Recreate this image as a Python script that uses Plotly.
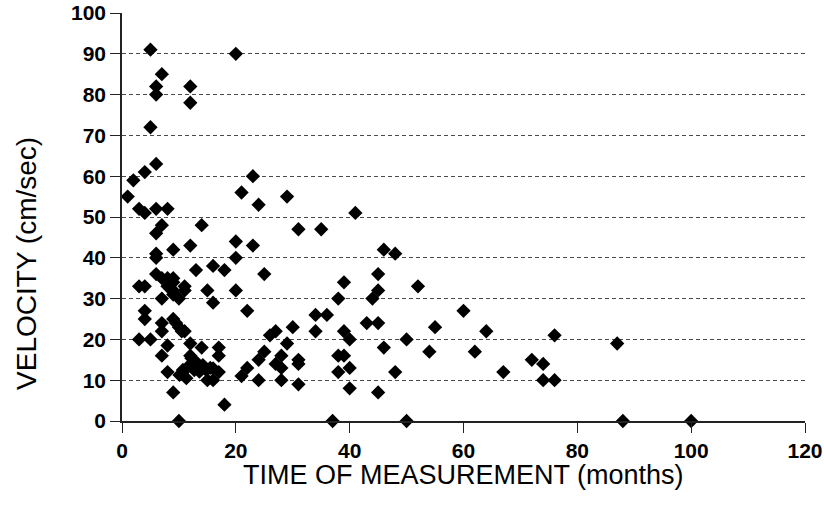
import plotly.graph_objects as go

months = [1, 2, 3, 4, 4, 5, 5, 6, 6, 6, 6, 7, 8, 12, 12, 20, 21, 23, 24, 29,
          7, 6, 14, 31, 35, 41, 20, 23, 12, 9, 6, 6, 20, 13, 16, 18, 25, 46, 48,
          6, 7, 8, 9, 9, 8, 11, 11, 3, 4, 9, 15, 20, 39, 45, 45, 52,
          7, 9, 10, 16, 22, 44, 38, 4, 4, 7, 9, 9.5, 10, 10.5, 11, 7, 34, 36, 60, 43, 45,
          3, 5, 12, 8, 14, 17, 17, 7, 12, 30, 34, 39, 40, 55, 64, 50, 29, 46, 54, 62, 26, 27, 76, 87,
          12.2, 13, 14.2, 11.6, 10.7, 10.1, 12.7, 14.8, 16, 13.6, 11.3, 8, 15, 16, 17, 15.5,
          21, 22, 24, 25, 24, 28, 27, 28, 28, 31, 31, 31, 38, 39, 40, 38, 48, 67, 72, 74, 74, 76, 40, 45, 9, 18,
          10, 37, 50, 88, 100]
velocity = [55, 59, 52, 51, 61, 91, 72, 82, 80, 63, 52, 85, 52, 82, 78, 90, 56, 60, 53, 55,
            48, 46, 48, 47, 47, 51, 44, 43, 43, 42, 41, 40, 40, 37, 38, 37, 36, 42, 41,
            36, 35, 35, 35, 34, 33, 33, 32, 33, 33, 32, 32, 32, 34, 36, 32, 33,
            30, 31, 30, 29, 27, 30, 30, 27, 25, 24, 25, 24, 23, 22, 22, 22, 26, 26, 27, 24, 24,
            20, 20, 19, 18.5, 18, 18, 16, 16, 16, 23, 22, 22, 20, 23, 22, 20, 19, 18, 17, 17, 21, 22, 21, 19,
            15.4, 14.5, 13.7, 13.3, 12.5, 11.3, 12.5, 12.5, 12.9, 12.1, 10.5, 12, 10, 10, 12, 13,
            11, 13, 15, 17, 10, 16, 14, 13, 10, 15, 14, 9, 16, 16, 13, 12, 12, 12, 15, 14, 10, 10, 8, 7, 7, 4,
            0, 0, 0, 0, 0]

x_ticks = [0, 20, 40, 60, 80, 100, 120]
y_ticks = [0, 10, 20, 30, 40, 50, 60, 70, 80, 90, 100]
x_title = "TIME OF MEASUREMENT (months)"
y_title = "VELOCITY (cm/sec)"

fig = go.Figure()
fig.add_trace(go.Scatter(
    x=months, y=velocity, mode="markers",
    marker=dict(symbol="diamond", size=11, color="black", line=dict(width=0)),
    cliponaxis=False, showlegend=False,
))

tickfont = dict(family="Liberation Sans, Arial, sans-serif", size=21, color="black", weight="bold")
titlefont = dict(family="Liberation Sans, Arial, sans-serif", size=27, color="black")

fig.update_layout(
    width=824, height=511,
    margin=dict(l=122, r=19, t=13, b=90),
    paper_bgcolor="white", plot_bgcolor="white",
    xaxis=dict(
        range=[0, 120], tickvals=x_ticks, ticks="outside", ticklen=10, tickcolor="#222",
        showgrid=False, zeroline=False, showline=True, linecolor="#222", linewidth=1.5,
        automargin=False, tickfont=tickfont,
    ),
    yaxis=dict(
        range=[0, 100], tickvals=y_ticks, ticks="outside", ticklen=10, tickcolor="#222",
        showgrid=True, gridcolor="#4a4a4a", griddash="4px,3px", gridwidth=1,
        zeroline=False, showline=True, linecolor="#222", linewidth=1.5,
        automargin=False, tickfont=tickfont,
    ),
    annotations=[
        dict(text=x_title, xref="paper", yref="paper", x=0.5, y=-0.133,
             xanchor="center", yanchor="middle", showarrow=False, font=titlefont),
        dict(text=y_title, xref="paper", yref="paper", x=0, xshift=-95, y=0.385,
             xanchor="center", yanchor="middle", textangle=-90, showarrow=False,
             font=dict(family="Liberation Sans, Arial, sans-serif", size=28, color="black")),
    ],
)

fig.write_html("out.html")
